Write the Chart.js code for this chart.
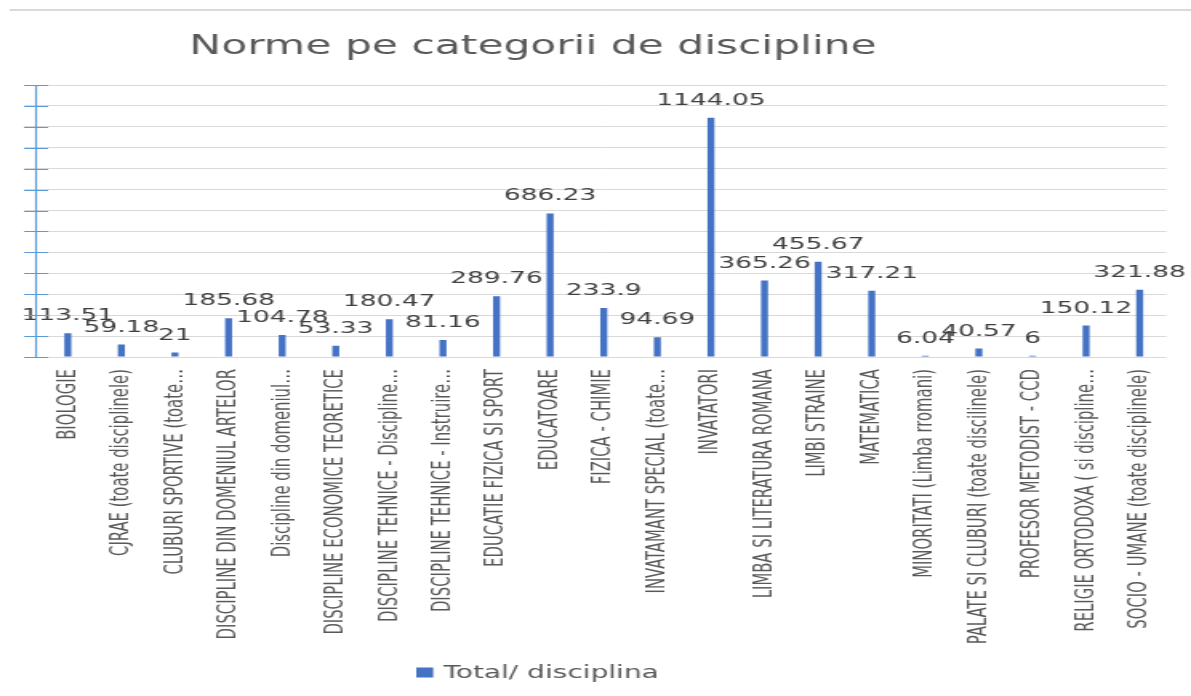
<!DOCTYPE html>
<html>
<head>
<meta charset="utf-8">
<script src="https://cdn.jsdelivr.net/npm/chart.js@4"></script>
<style>
  html, body { margin: 0; padding: 0; background: #fff; overflow: hidden; }
  #chart { display: block; }
</style>
</head>
<body>
<!-- the reference picture is stretched sideways, so the canvas is drawn narrow and widened -->
<canvas id="chart" width="744" height="696" style="width:1191px;height:696px"></canvas>
<script>
// date din grafic
const categories = [
    'BIOLOGIE',
    'CJRAE (toate disciplinele)',
    'CLUBURI SPORTIVE (toate…',
    'DISCIPLINE DIN DOMENIUL ARTELOR',
    'Discipline din domeniul…',
    'DISCIPLINE ECONOMICE TEORETICE',
    'DISCIPLINE TEHNICE - Discipline…',
    'DISCIPLINE TEHNICE - Instruire…',
    'EDUCATIE FIZICA SI SPORT',
    'EDUCATOARE',
    'FIZICA - CHIMIE',
    'INVATAMANT SPECIAL (toate…',
    'INVATATORI',
    'LIMBA SI LITERATURA ROMANA',
    'LIMBI STRAINE',
    'MATEMATICA',
    'MINORITATI (Limba rromani)',
    'PALATE SI CLUBURI (toate discilinele)',
    'PROFESOR METODIST - CCD',
    'RELIGIE ORTODOXA ( si discipline…',
    'SOCIO - UMANE (toate disciplinele)'
];
const totals = [113.51, 59.18, 21, 185.68, 104.78, 53.33, 180.47, 81.16, 289.76, 686.23,
    233.9, 94.69, 1144.05, 365.26, 455.67, 317.21, 6.04, 40.57, 6, 150.12, 321.88];
const seriesName = 'Total/ disciplina';
const chartTitle = 'Norme pe categorii de discipline';
const yMin = 0;
const yMax = 1300;
const yStep = 100;

const barColor = '#4472c4';
const axisColor = '#5b9bd5';
const textColor = '#595959';

// etichete cu valori deasupra barelor
const valueLabels = {
    id: 'valueLabels',
    afterDatasetsDraw(chart) {
        const ctx = chart.ctx;
        const meta = chart.getDatasetMeta(0);
        ctx.save();
        ctx.font = '16.5px "DejaVu Sans"';
        ctx.fillStyle = '#404040';
        ctx.textAlign = 'center';
        ctx.textBaseline = 'alphabetic';
        meta.data.forEach((bar, i) => {
            ctx.fillText(String(totals[i]), bar.x, bar.y - 13);
        });
        ctx.restore();
    }
};

// axa Y albastra, titlul, legenda si chenarul de sus
const decorations = {
    id: 'decorations',
    afterDraw(chart) {
        const ctx = chart.ctx;
        const yScale = chart.scales.y;
        const area = chart.chartArea;
        ctx.save();

        // chenar sus
        ctx.strokeStyle = '#d9d9d9';
        ctx.lineWidth = 2;
        ctx.beginPath();
        ctx.moveTo(6, 10);
        ctx.lineTo(chart.width, 10);
        ctx.stroke();

        // axa Y
        ctx.strokeStyle = axisColor;
        ctx.lineWidth = 1.2;
        ctx.beginPath();
        ctx.moveTo(22.5, area.top);
        ctx.lineTo(22.5, area.bottom);
        yScale.ticks.forEach(t => {
            const y = Math.round(yScale.getPixelForValue(t.value)) + 0.5;
            ctx.moveTo(15, y);
            ctx.lineTo(30, y);
        });
        ctx.stroke();

        // titlu
        ctx.fillStyle = textColor;
        ctx.font = '26.5px "DejaVu Sans"';
        ctx.textAlign = 'center';
        ctx.textBaseline = 'alphabetic';
        ctx.fillText(chartTitle, 333, 54);

        // legenda
        ctx.fillStyle = barColor;
        ctx.fillRect(260, 667.5, 10.6, 10);
        ctx.fillStyle = textColor;
        ctx.font = '17.5px "DejaVu Sans"';
        ctx.textAlign = 'left';
        ctx.fillText(seriesName, 277, 678);

        ctx.restore();
    }
};

const ctx = document.getElementById('chart').getContext('2d');
const normeChart = new Chart(ctx, {
    type: 'bar',
    data: {
        labels: categories,
        datasets: [{
            label: seriesName,
            data: totals,
            backgroundColor: barColor,
            borderWidth: 0,
            barPercentage: 0.13,
            categoryPercentage: 1
        }]
    },
    options: {
        responsive: false,
        animation: false,
        layout: {
            padding: { left: 15, right: 11, top: 85, bottom: 0 }
        },
        plugins: {
            legend: { display: false },
            title: { display: false },
            tooltip: { enabled: false }
        },
        scales: {
            x: {
                grid: { display: false, drawTicks: false },
                border: { display: false },
                ticks: {
                    autoSkip: false,
                    minRotation: 90,
                    maxRotation: 90,
                    padding: 12,
                    color: textColor,
                    font: { family: '"Liberation Sans Narrow", "DejaVu Sans Condensed", sans-serif', size: 16.5 }
                },
                afterFit(scale) {
                    scale.height = 339;
                }
            },
            y: {
                min: yMin,
                max: yMax,
                ticks: { stepSize: yStep, display: false },
                grid: { color: '#d9d9d9', tickLength: 10.6, drawTicks: true },
                border: { display: false }
            }
        }
    },
    plugins: [valueLabels, decorations]
});
</script>
</body>
</html>
